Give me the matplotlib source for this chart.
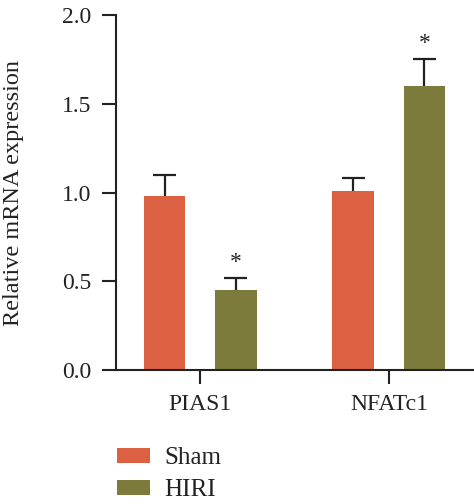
import matplotlib
matplotlib.use("Agg")
import matplotlib.pyplot as plt
import numpy as np

# values
genes = ["PIAS1", "NFATc1"]
groups = ["Sham", "HIRI"]
sham_mean = [0.98, 1.01]
sham_err = [0.12, 0.07]
hiri_mean = [0.45, 1.60]
hiri_err = [0.07, 0.155]
hiri_sig = ["*", "*"]

colors = ["#DC6042", "#7D7B3B"]
ink = "#222222"

plt.rcParams["font.family"] = ["Liberation Serif", "DejaVu Serif"]

fig = plt.figure(figsize=(4.74, 5.04), dpi=100)
ax = fig.add_axes([0.245, 0.266, 0.755, 0.704])

x = np.arange(len(genes))
w = 0.222
off = 0.188
cap = 0.06

ax.bar(x - off, sham_mean, w, color=colors[0], label=groups[0])
ax.bar(x + off, hiri_mean, w, color=colors[1], label=groups[1])

# upper-only error bars
for xs, m, e in [(x - off, sham_mean, sham_err), (x + off, hiri_mean, hiri_err)]:
    top = np.array(m) + np.array(e)
    ax.vlines(xs, m, top, color=ink, lw=1.6)
    ax.hlines(top, xs - cap, xs + cap, color=ink, lw=1.6)

for xi, m, e, s in zip(x + off, hiri_mean, hiri_err, hiri_sig):
    ax.text(xi, m + e + 0.025, s, ha="center", va="bottom", fontsize=17, color=ink)

ax.set_xlim(-0.444, 1.45)
ax.set_ylim(0, 2.0)
ax.set_yticks([0.0, 0.5, 1.0, 1.5, 2.0])
ax.set_yticklabels(["0.0", "0.5", "1.0", "1.5", "2.0"])
ax.set_xticks(x)
ax.set_xticklabels(genes)
ax.tick_params(axis="both", labelsize=17, width=1.5, length=10, color=ink,
               labelcolor=ink)
ax.tick_params(axis="x", pad=7)
ax.tick_params(axis="y", pad=8)
for sp in ["top", "right"]:
    ax.spines[sp].set_visible(False)
for sp in ["left", "bottom"]:
    ax.spines[sp].set_linewidth(1.5)
    ax.spines[sp].set_color(ink)

ax.set_ylabel("Relative mRNA expression", fontsize=17.5, color=ink, labelpad=27)

fig.legend(loc="lower left", bbox_to_anchor=(0.247, 0.005), frameon=False,
           fontsize=18, handlelength=1.3, handleheight=0.55, labelspacing=0.42,
           handletextpad=0.6, borderpad=0, borderaxespad=0, labelcolor=ink)

fig.savefig("out.png", dpi=100)
